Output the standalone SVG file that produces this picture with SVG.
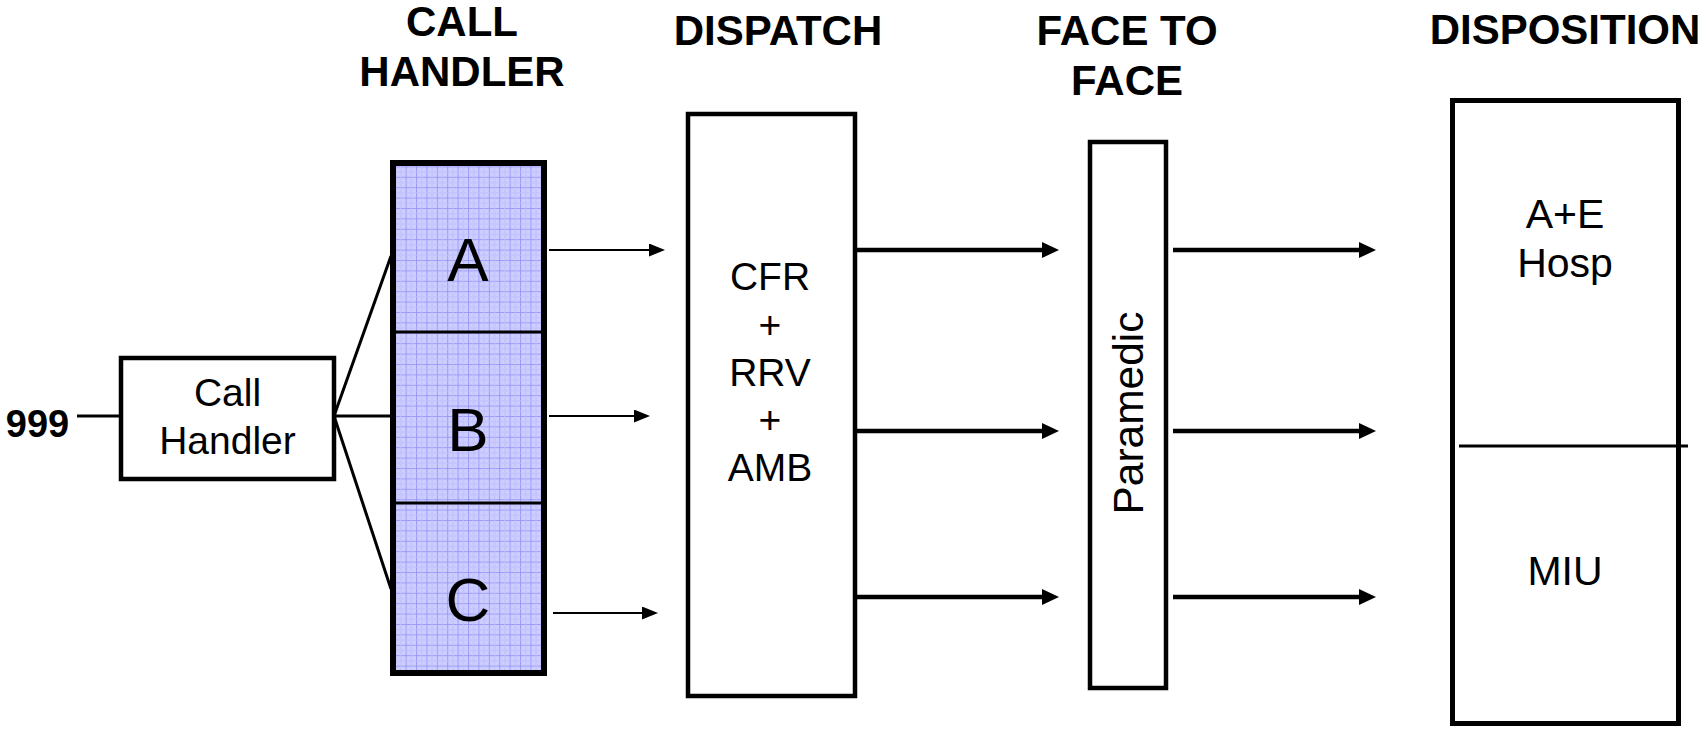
<svg xmlns="http://www.w3.org/2000/svg" width="1702" height="731" viewBox="0 0 1702 731">
<style>
.t{font-family:"Liberation Sans",Arial,sans-serif;fill:#000}
.title{font-size:42px;font-weight:bold;text-anchor:middle}
.lbl{font-size:39px;text-anchor:middle}
.box{fill:#fff;stroke:#000;stroke-width:4.5}
.thin{stroke:#000;stroke-width:2.2;fill:none}
.thick{stroke:#000;stroke-width:4.5;fill:none}
.fan{stroke:#000;stroke-width:3;fill:none}
</style>
<defs>
<pattern id="grid" patternUnits="userSpaceOnUse" width="10.4" height="10.4">
<rect width="10.4" height="10.4" fill="#cdcdff"/>
<path d="M0,0.5H10.4M0.5,0V10.4" stroke="#9a9af8" stroke-width="1"/>
<path d="M0,5.7H10.4M5.7,0V10.4" stroke="#bfbffd" stroke-width="1"/>
</pattern>
<marker id="ahThin" markerUnits="userSpaceOnUse" markerWidth="16" markerHeight="13" viewBox="0 0 16 13" refX="8" refY="6.5" orient="auto">
<path d="M0,0L16,6.5L0,13z" fill="#000"/>
</marker>
<marker id="ahThick" markerUnits="userSpaceOnUse" markerWidth="17" markerHeight="16" viewBox="0 0 17 16" refX="8" refY="8" orient="auto">
<path d="M0,0L17,8L0,16z" fill="#000"/>
</marker>
</defs>

<g id="titles" class="t">
<text class="t title" x="462" y="36">CALL</text>
<text class="t title" x="462" y="86">HANDLER</text>
<text class="t title" x="778" y="45">DISPATCH</text>
<text class="t title" x="1127" y="45">FACE TO</text>
<text class="t title" x="1127" y="95">FACE</text>
<text class="t title" x="1565" y="44">DISPOSITION</text>
</g>

<g id="input-999">
<text class="t" x="37.5" y="437" font-size="38" font-weight="bold" text-anchor="middle">999</text>
</g>

<g id="call-handler">
<rect class="box" x="121" y="358" width="213" height="121"/>
<text class="t lbl" x="227.5" y="406">Call</text>
<text class="t lbl" x="227.5" y="454">Handler</text>
</g>

<g id="call-handler-stack">
<rect x="393" y="163" width="151" height="510" fill="url(#grid)" stroke="#000" stroke-width="6"/>
<line x1="393" y1="332" x2="544" y2="332" stroke="#000" stroke-width="3"/>
<line x1="393" y1="503" x2="544" y2="503" stroke="#000" stroke-width="3"/>
<text class="t" x="468" y="281" font-size="62" text-anchor="middle">A</text>
<text class="t" x="468" y="451" font-size="62" text-anchor="middle">B</text>
<text class="t" x="468" y="621" font-size="62" text-anchor="middle">C</text>
</g>

<g id="dispatch">
<rect class="box" x="688" y="114" width="167" height="582"/>
<text class="t lbl" x="770" y="290">CFR</text>
<text class="t lbl" x="770" y="338">+</text>
<text class="t lbl" x="770" y="386">RRV</text>
<text class="t lbl" x="770" y="433">+</text>
<text class="t lbl" x="770" y="481">AMB</text>
</g>

<g id="paramedic">
<rect class="box" x="1090" y="142" width="76" height="546"/>
<text class="t" transform="translate(1143,413) rotate(-90)" x="0" y="0" font-size="42.5" text-anchor="middle">Paramedic</text>
</g>

<g id="disposition">
<rect x="1452.5" y="100.5" width="226" height="623" fill="#fff" stroke="#000" stroke-width="5"/>
<line x1="1459" y1="446" x2="1688" y2="446" stroke="#000" stroke-width="3"/>
<text class="t" x="1565" y="228" font-size="41" text-anchor="middle">A+E</text>
<text class="t" x="1565" y="277" font-size="41" text-anchor="middle">Hosp</text>
<text class="t" x="1565" y="585" font-size="41" text-anchor="middle">MIU</text>
</g>

<g id="connectors">
<line class="fan" x1="77" y1="416" x2="121" y2="416"/>
<line class="fan" x1="334" y1="416" x2="391" y2="256"/>
<line class="fan" x1="334" y1="416" x2="391" y2="416"/>
<line class="fan" x1="334" y1="416" x2="391" y2="589"/>
<line class="thin" x1="549" y1="250" x2="657" y2="250" marker-end="url(#ahThin)"/>
<line class="thin" x1="549" y1="416" x2="642" y2="416" marker-end="url(#ahThin)"/>
<line class="thin" x1="553" y1="613" x2="650" y2="613" marker-end="url(#ahThin)"/>
<line class="thick" x1="857" y1="250" x2="1050" y2="250" marker-end="url(#ahThick)"/>
<line class="thick" x1="857" y1="431" x2="1050" y2="431" marker-end="url(#ahThick)"/>
<line class="thick" x1="857" y1="597" x2="1050" y2="597" marker-end="url(#ahThick)"/>
<line class="thick" x1="1173" y1="250" x2="1367" y2="250" marker-end="url(#ahThick)"/>
<line class="thick" x1="1173" y1="431" x2="1367" y2="431" marker-end="url(#ahThick)"/>
<line class="thick" x1="1173" y1="597" x2="1367" y2="597" marker-end="url(#ahThick)"/>
</g>
</svg>
